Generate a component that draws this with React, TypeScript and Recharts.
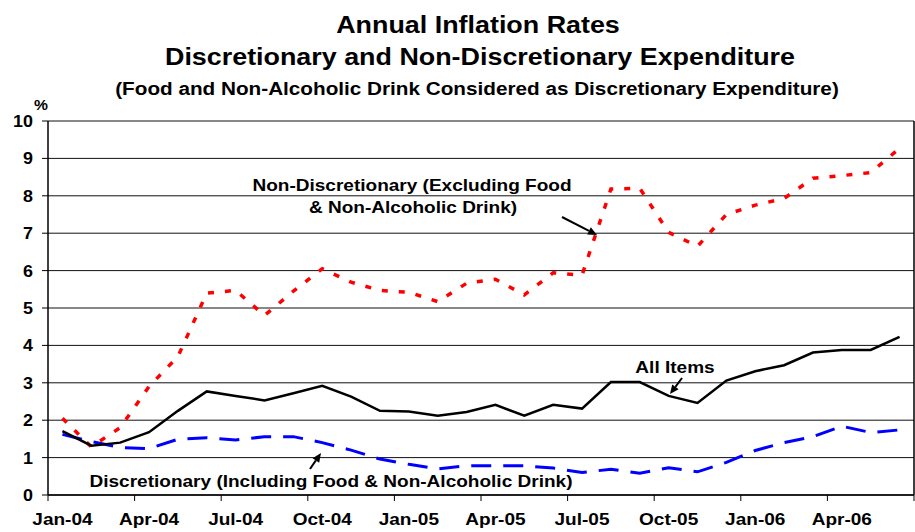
import React from "react";
import { LineChart, Line, XAxis, YAxis, CartesianGrid, ReferenceLine, Customized } from "recharts";

const months = [
  "Jan-04","Feb-04","Mar-04","Apr-04","May-04","Jun-04","Jul-04","Aug-04","Sep-04","Oct-04","Nov-04","Dec-04",
  "Jan-05","Feb-05","Mar-05","Apr-05","May-05","Jun-05","Jul-05","Aug-05","Sep-05","Oct-05","Nov-05","Dec-05",
  "Jan-06","Feb-06","Mar-06","Apr-06","May-06","Jun-06",
];
const xTickLabels = ["Jan-04","Apr-04","Jul-04","Oct-04","Jan-05","Apr-05","Jul-05","Oct-05","Jan-06","Apr-06"];
const yTicks = [0,1,2,3,4,5,6,7,8,9,10];

const allItems = [1.71,1.32,1.40,1.68,2.25,2.77,2.65,2.53,2.72,2.92,2.63,2.25,2.23,2.12,2.22,2.41,2.12,2.41,2.31,3.02,3.02,2.65,2.46,3.06,3.31,3.47,3.81,3.88,3.88,4.23];
const nonDiscretionary = [2.05,1.29,1.80,2.90,3.70,5.40,5.47,4.80,5.45,6.05,5.69,5.47,5.42,5.17,5.66,5.77,5.35,5.94,5.88,8.18,8.20,7.02,6.65,7.50,7.75,7.93,8.47,8.54,8.62,9.27];
const discretionary = [1.62,1.43,1.27,1.24,1.49,1.53,1.47,1.56,1.56,1.40,1.20,0.96,0.82,0.70,0.78,0.78,0.78,0.72,0.60,0.69,0.58,0.73,0.62,0.87,1.19,1.40,1.56,1.84,1.67,1.74];

const data = months.map((m, i) => ({
  x: i,
  month: m,
  all: allItems[i],
  nonDisc: nonDiscretionary[i],
  disc: discretionary[i],
}));

const boundaryTicks = Array.from({ length: 11 }, (_, k) => k * 3 - 0.5);

const FONT = "'Liberation Sans', Arial, Helvetica, sans-serif";
const STRETCH = 1.12;
const W = 915;
const H = 532;
const M = { top: 121, right: 1, bottom: 0, left: 0 };
const HALF_BAND = (W - 48 - M.right) / months.length / 2;

function T({ x, y, size, anchor = "middle", children }: any) {
  return (
    <text
      x={0}
      y={0}
      transform={`translate(${x},${y}) scale(${STRETCH},1)`}
      fontSize={size}
      fontWeight="bold"
      fontFamily={FONT}
      textAnchor={anchor}
      fill="#000"
    >
      {children}
    </text>
  );
}

function XTick(props: any) {
  const { x, y, index } = props;
  const label = xTickLabels[index];
  if (!label) return <g />;
  return <T x={x + HALF_BAND} y={y + 22} size={17}>{label}</T>;
}

function YTick(props: any) {
  const { x, y, payload } = props;
  return <T x={x} y={y + 6} size={16} anchor="end">{payload.value}</T>;
}

function Arrow({ x1, y1, x2, y2 }: any) {
  const ang = Math.atan2(y2 - y1, x2 - x1);
  const len = 9;
  const w = 4;
  const bx = x2 - len * Math.cos(ang);
  const by = y2 - len * Math.sin(ang);
  const px = -Math.sin(ang) * w;
  const py = Math.cos(ang) * w;
  return (
    <g>
      <line x1={x1} y1={y1} x2={bx} y2={by} stroke="#000" strokeWidth={2} />
      <polygon points={`${x2},${y2} ${bx + px},${by + py} ${bx - px},${by - py}`} fill="#000" />
    </g>
  );
}

function Decorations() {
  return (
    <g>
      <T x={478} y={33} size={24}>Annual Inflation Rates</T>
      <T x={480} y={65} size={24}>Discretionary and Non-Discretionary Expenditure</T>
      <T x={477} y={95} size={18.5}>(Food and Non-Alcoholic Drink Considered as Discretionary Expenditure)</T>
      <T x={41} y={110} size={14}>%</T>
      <T x={412} y={191} size={17}>Non-Discretionary (Excluding Food</T>
      <T x={413} y={213} size={17}>{"& Non-Alcoholic Drink)"}</T>
      <T x={675} y={373} size={17}>All Items</T>
      <T x={331} y={487} size={17}>{"Discretionary (Including Food & Non-Alcoholic Drink)"}</T>
      <Arrow x1={562} y1={217} x2={597} y2={235} />
      <Arrow x1={682} y1={378} x2={670} y2={394} />
      <Arrow x1={310} y1={469} x2={321} y2={453} />
    </g>
  );
}

export default function App() {
  return (
    <div style={{ position: "absolute", left: 0, top: 0, width: W, height: H, background: "#fff" }}>
      <LineChart width={W} height={H} data={data} margin={M}>
        <CartesianGrid horizontal vertical={false} stroke="#111" strokeWidth={1} />
        <XAxis
          dataKey="x"
          type="number"
          domain={[-0.5, 29.5]}
          ticks={boundaryTicks}
          interval={0}
          height={37}
          tick={<XTick />}
          tickSize={6}
          tickLine={{ stroke: "#000" }}
          axisLine={{ stroke: "#000", strokeWidth: 1.5 }}
        />
        <YAxis
          type="number"
          domain={[0, 10]}
          ticks={yTicks}
          interval={0}
          width={48}
          tick={<YTick />}
          tickSize={6}
          tickMargin={9}
          tickLine={{ stroke: "#000" }}
          axisLine={{ stroke: "#000", strokeWidth: 1.5 }}
        />
        <ReferenceLine x={29.5} stroke="#000" strokeWidth={1.5} />
        <Line
          type="linear"
          dataKey="nonDisc"
          stroke="#ff0000"
          strokeWidth={3.5}
          strokeDasharray="6 11"
          dot={false}
          isAnimationActive={false}
        />
        <Line
          type="linear"
          dataKey="disc"
          stroke="#0000ff"
          strokeWidth={3}
          strokeDasharray="20 12"
          dot={false}
          isAnimationActive={false}
        />
        <Line
          type="linear"
          dataKey="all"
          stroke="#000"
          strokeWidth={2.5}
          dot={false}
          isAnimationActive={false}
        />
        <Customized component={Decorations} />
      </LineChart>
    </div>
  );
}
